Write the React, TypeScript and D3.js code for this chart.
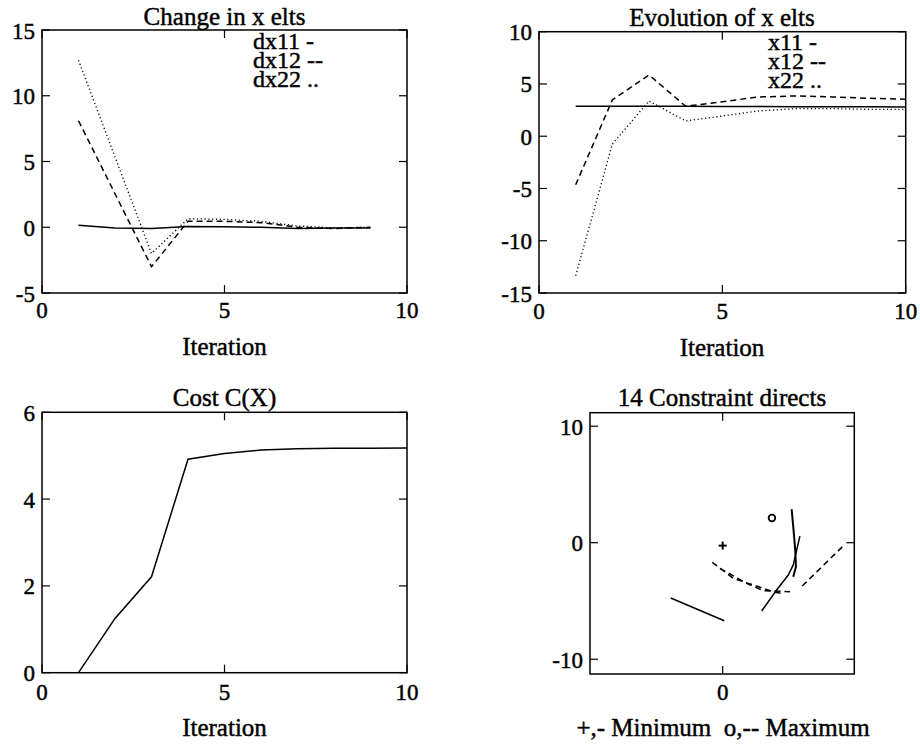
import React from 'react';
import * as d3 from 'd3';

// Panel 1: Change in x elts
const iterDx = [1, 2, 3, 4, 5, 6, 7, 8, 9];
const dx11 = [0.15, -0.05, -0.1, 0.05, 0.03, 0.0, -0.1, -0.05, -0.05];
const dx12 = [8.1, 2.55, -3.0, 0.45, 0.45, 0.35, 0.0, -0.1, 0.0];
const dx22 = [12.7, 5.35, -2.0, 0.65, 0.6, 0.45, 0.1, -0.05, 0.0];
const legend1 = ['dx11 -', 'dx12 --', 'dx22 ..'];

// Panel 2: Evolution of x elts
const iterX = [1, 2, 3, 4, 5, 6, 7, 8, 9, 10];
const x11 = [2.87, 2.87, 2.87, 2.86, 2.85, 2.84, 2.83, 2.82, 2.81, 2.8];
const x12 = [-4.65, 3.47, 5.86, 2.87, 3.3, 3.76, 3.85, 3.76, 3.63, 3.54];
const x22 = [-13.35, -0.75, 3.37, 1.46, 1.94, 2.42, 2.64, 2.64, 2.57, 2.57];
const legend2 = ['x11 -', 'x12 --', 'x22 ..'];

// Panel 3: Cost
const iterC = [1, 2, 3, 4, 5, 6, 7, 8, 9, 10];
const cost = [0, 1.25, 2.21, 4.92, 5.05, 5.13, 5.16, 5.17, 5.17, 5.18];

// Panel 4: constraint directions
const minPoint: [number, number] = [0, -0.25];
const maxPoint: [number, number] = [4.23, 2.12];
const solidA: [number, number][] = [[-4.46, -4.75], [0.14, -6.7]];
const solidB: [number, number][] = [[3.35, -5.86], [4.63, -4.06], [5.63, -2.77], [6.06, -1.91], [6.63, 0.57]];
const solidC: [number, number][] = [[5.92, 2.87], [6.06, 1.37], [6.23, -0.63], [6.29, -2.06], [6.06, -2.92]];
const dashedA: [number, number][] = [[-0.89, -1.68], [0.91, -3.06], [2.63, -3.63], [4.34, -4.2], [5.06, -4.35]];
const dashedB: [number, number][] = [[-0.23, -2.2], [2.06, -3.49], [3.48, -4.12], [5.78, -4.2]];
const dashedC: [number, number][] = [[6.83, -3.72], [10.35, -0.28]];

// tick labels
const ticks1Y = [-5, 0, 5, 10, 15];
const ticks2Y = [-15, -10, -5, 0, 5, 10];
const ticks3Y = [0, 2, 4, 6];
const ticks4Y = [-10, 0, 10];
const ticksIter = [0, 5, 10];
const ticks4X = [0];

const FONT = '"Liberation Serif", "Times New Roman", serif';
const textStyle: React.CSSProperties = {
  fontFamily: FONT,
  fill: '#000',
  stroke: '#000',
  strokeWidth: 0.45,
};

const DASH = '6,4';
const DOT = '1.2,2.6';

type Box = { x0: number; x1: number; y0: number; y1: number };

function Frame({ box, x, y, xt, yt, tickFs }: { box: Box; x: any; y: any; xt: number[]; yt: number[]; tickFs: number }) {
  const tl = 8;
  return (
    <g>
      <rect x={box.x0} y={box.y0} width={box.x1 - box.x0} height={box.y1 - box.y0} fill="none" stroke="#000" strokeWidth={1.5} />
      {xt.map((t) => (
        <g key={'x' + t}>
          <line x1={x(t)} x2={x(t)} y1={box.y1} y2={box.y1 - tl} stroke="#000" strokeWidth={1.2} />
          <line x1={x(t)} x2={x(t)} y1={box.y0} y2={box.y0 + tl} stroke="#000" strokeWidth={1.2} />
        </g>
      ))}
      {yt.map((t) => (
        <g key={'y' + t}>
          <line x1={box.x0} x2={box.x0 + tl} y1={y(t)} y2={y(t)} stroke="#000" strokeWidth={1.2} />
          <line x1={box.x1} x2={box.x1 - tl} y1={y(t)} y2={y(t)} stroke="#000" strokeWidth={1.2} />
          <text x={box.x0 - 7} y={y(t) + 8.5} textAnchor="end" fontSize={tickFs} style={textStyle}>
            {String(t)}
          </text>
        </g>
      ))}
    </g>
  );
}

function XLabels({ x, xt, base, fs }: { x: any; xt: number[]; base: number; fs: number }) {
  return (
    <g>
      {xt.map((t) => (
        <text key={t} x={x(t)} y={base} textAnchor="middle" fontSize={fs} style={textStyle}>
          {String(t)}
        </text>
      ))}
    </g>
  );
}

function Legend({ x, y, lines, fs }: { x: number; y: number; lines: string[]; fs: number }) {
  return (
    <text x={x} y={y} fontSize={fs} style={textStyle}>
      {lines.map((s, i) => (
        <tspan key={i} x={x} dy={i === 0 ? 0 : 18.8}>
          {s}
        </tspan>
      ))}
    </text>
  );
}

export default function App() {
  // Panel 1
  const b1: Box = { x0: 42, x1: 407, y0: 30, y1: 293 };
  const xs1 = d3.scaleLinear().domain([0, 10]).range([b1.x0, b1.x1]);
  const ys1 = d3.scaleLinear().domain([-5, 15]).range([b1.y1, b1.y0]);
  const l1 = (vals: number[]) =>
    d3.line<number>().x((_, i) => xs1(iterDx[i])).y((v) => ys1(v))(vals) || '';

  // Panel 2
  const b2: Box = { x0: 539, x1: 905.7, y0: 31.7, y1: 293 };
  const xs2 = d3.scaleLinear().domain([0, 10]).range([b2.x0, b2.x1]);
  const ys2 = d3.scaleLinear().domain([-15, 10]).range([b2.y1, b2.y0]);
  const l2 = (vals: number[]) =>
    d3.line<number>().x((_, i) => xs2(iterX[i])).y((v) => ys2(v))(vals) || '';

  // Panel 3
  const b3: Box = { x0: 42, x1: 407, y0: 412.3, y1: 672.7 };
  const xs3 = d3.scaleLinear().domain([0, 10]).range([b3.x0, b3.x1]);
  const ys3 = d3.scaleLinear().domain([0, 6]).range([b3.y1, b3.y0]);
  const l3 = d3.line<number>().x((_, i) => xs3(iterC[i])).y((v) => ys3(v))(cost) || '';

  // Panel 4
  const b4: Box = { x0: 590, x1: 854.3, y0: 412.7, y1: 674 };
  const xs4 = d3.scaleLinear().domain([-11.39, 11.3]).range([b4.x0, b4.x1]);
  const ys4 = d3.scaleLinear().domain([-11.27, 11.16]).range([b4.y1, b4.y0]);
  const l4 = (pts: [number, number][]) =>
    d3.line<[number, number]>().x((p) => xs4(p[0])).y((p) => ys4(p[1]))(pts) || '';

  const fsTick = 23;
  const fsTitle = 25;
  const fsLeg = 24;

  const lineProps = { fill: 'none', stroke: '#000', strokeWidth: 1.5 } as const;

  return (
    <svg width={920} height={744} style={{ position: 'absolute', left: 0, top: 0, background: '#fff' }}>
      <rect x={0} y={0} width={920} height={744} fill="#fff" />

      {/* Panel 1 */}
      <Frame box={b1} x={xs1} y={ys1} xt={ticksIter} yt={ticks1Y} tickFs={fsTick} />
      <XLabels x={xs1} xt={ticksIter} base={318} fs={fsTick} />
      <path d={l1(dx11)} {...lineProps} />
      <path d={l1(dx12)} {...lineProps} strokeDasharray={DASH} />
      <path d={l1(dx22)} {...lineProps} strokeWidth={1.3} strokeDasharray={DOT} />
      <text x={224.5} y={25} textAnchor="middle" fontSize={fsTitle} style={textStyle}>Change in x elts</text>
      <Legend x={253} y={49} lines={legend1} fs={fsLeg} />
      <text x={224.5} y={355} textAnchor="middle" fontSize={fsTitle} style={textStyle}>Iteration</text>

      {/* Panel 2 */}
      <Frame box={b2} x={xs2} y={ys2} xt={ticksIter} yt={ticks2Y} tickFs={fsTick} />
      <XLabels x={xs2} xt={ticksIter} base={319} fs={fsTick} />
      <path d={l2(x11)} {...lineProps} />
      <path d={l2(x12)} {...lineProps} strokeDasharray={DASH} />
      <path d={l2(x22)} {...lineProps} strokeWidth={1.3} strokeDasharray={DOT} />
      <text x={722} y={26} textAnchor="middle" fontSize={fsTitle} style={textStyle}>Evolution of x elts</text>
      <Legend x={768} y={50} lines={legend2} fs={fsLeg} />
      <text x={722} y={356} textAnchor="middle" fontSize={fsTitle} style={textStyle}>Iteration</text>

      {/* Panel 3 */}
      <Frame box={b3} x={xs3} y={ys3} xt={ticksIter} yt={ticks3Y} tickFs={fsTick} />
      <XLabels x={xs3} xt={ticksIter} base={700} fs={fsTick} />
      <path d={l3} {...lineProps} />
      <text x={224.5} y={406} textAnchor="middle" fontSize={fsTitle} style={textStyle}>Cost C(X)</text>
      <text x={224.5} y={736} textAnchor="middle" fontSize={fsTitle} style={textStyle}>Iteration</text>

      {/* Panel 4 */}
      <Frame box={b4} x={xs4} y={ys4} xt={ticks4X} yt={ticks4Y} tickFs={fsTick} />
      <XLabels x={xs4} xt={ticks4X} base={700} fs={fsTick} />
      <path d={l4(solidA)} {...lineProps} />
      <path d={l4(solidB)} {...lineProps} />
      <path d={l4(solidC)} {...lineProps} strokeWidth={2} />
      <path d={l4(dashedA)} {...lineProps} strokeDasharray={DASH} />
      <path d={l4(dashedB)} {...lineProps} strokeDasharray={DASH} />
      <path d={l4(dashedC)} {...lineProps} strokeDasharray={DASH} />
      <g transform={`translate(${xs4(minPoint[0])},${ys4(minPoint[1])})`}>
        <line x1={-4} x2={4} y1={0} y2={0} stroke="#000" strokeWidth={2} />
        <line x1={0} x2={0} y1={-4} y2={4} stroke="#000" strokeWidth={2} />
      </g>
      <circle cx={xs4(maxPoint[0])} cy={ys4(maxPoint[1])} r={3.3} fill="none" stroke="#000" strokeWidth={1.8} />
      <text x={722} y={406} textAnchor="middle" fontSize={fsTitle} style={textStyle}>14 Constraint directs</text>
      <text x={723} y={736} textAnchor="middle" fontSize={fsTitle} style={{ ...textStyle, whiteSpace: 'pre' }} xmlSpace="preserve">
        {'+,- Minimum  o,-- Maximum'}
      </text>
    </svg>
  );
}
